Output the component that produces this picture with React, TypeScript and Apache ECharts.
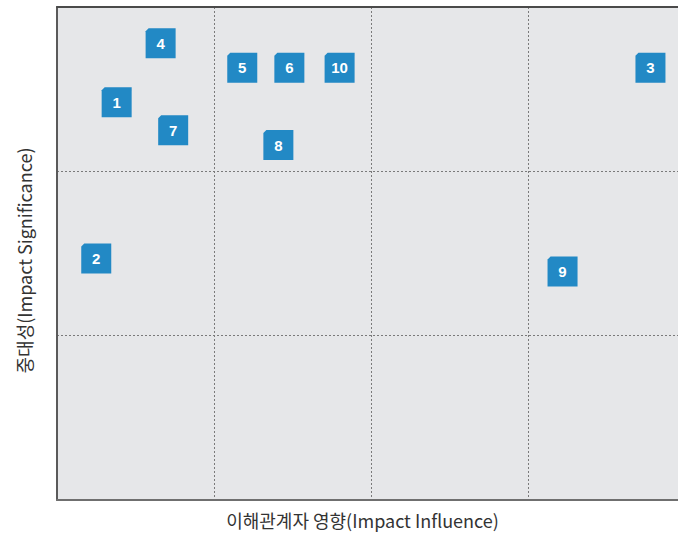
import React, { useEffect, useRef } from "react";
import * as echarts from "echarts";

const ids = ["1", "2", "3", "4", "5", "6", "7", "8", "9", "10"];
const influence = [0.38, 0.25, 3.78, 0.66, 1.18, 1.48, 0.74, 1.41, 3.22, 1.8];
const significance = [2.42, 1.47, 2.63, 2.78, 2.63, 2.63, 2.25, 2.16, 1.39, 2.63];
const xName = "이해관계자 영향(Impact Influence)";
const yName = "중대성(Impact Significance)";

export default function App() {
  const ref = useRef<HTMLDivElement>(null);
  useEffect(() => {
    if (!ref.current) return;
    const chart = echarts.init(ref.current, undefined, { renderer: "svg" });
    const data = ids.map((id, i) => ({ name: id, value: [influence[i], significance[i]] }));
    chart.setOption({
      animation: false,
      backgroundColor: "#ffffff",
      grid: {
        left: 57,
        top: 7,
        width: 628,
        height: 493,
        outerBoundsMode: "none",
        containLabel: false,
        show: true,
        backgroundColor: "#e6e7e9",
        borderWidth: 0,
      },
      xAxis: [
        {
          type: "value",
          min: 0,
          max: 4,
          interval: 1,
          position: "bottom",
          name: xName,
          nameLocation: "middle",
          nameGap: 11,
          nameTextStyle: { fontFamily: "Noto Sans CJK KR", fontSize: 18, color: "#333", padding: [0, 17, 0, 0] },
          axisLine: { show: true, lineStyle: { color: "#6f6f6f", width: 2 } },
          axisTick: { show: false },
          axisLabel: { show: false },
          splitLine: { show: true, lineStyle: { type: [2, 2], color: "#7a7a7a", width: 1 } },
        },
        {
          type: "value",
          min: 0,
          max: 4,
          position: "top",
          axisLine: { show: true, lineStyle: { color: "#4a4a4a", width: 2 } },
          axisTick: { show: false },
          axisLabel: { show: false },
          splitLine: { show: false },
        },
      ],
      yAxis: {
        type: "value",
        min: 0,
        max: 3,
        interval: 1,
        name: yName,
        nameLocation: "middle",
        nameGap: 24,
        nameTextStyle: { fontFamily: "Noto Sans CJK KR", fontSize: 18, color: "#333", padding: [0, 14, 0, 0] },
        axisLine: { show: true, lineStyle: { color: "#5a5a5a", width: 2 } },
        axisTick: { show: false },
        axisLabel: { show: false },
        splitLine: { show: true, lineStyle: { type: [2, 2], color: "#7a7a7a", width: 1 } },
      },
      series: [
        {
          type: "scatter",
          xAxisIndex: 0,
          data,
          symbol: "path://M3,0L30,0L30,30L0,30L0,3Z",
          symbolSize: 30,
          itemStyle: { color: "#2289c5", opacity: 1 },
          label: {
            show: true,
            position: "inside",
            formatter: (p: any) => p.name,
            color: "#ffffff",
            fontWeight: "bold",
            fontSize: 15,
            fontFamily: "Liberation Sans",
          },
        },
      ],
    });
    return () => chart.dispose();
  }, []);
  return <div ref={ref} style={{ width: 678, height: 533, position: "absolute", left: 0, top: 0 }} />;
}
